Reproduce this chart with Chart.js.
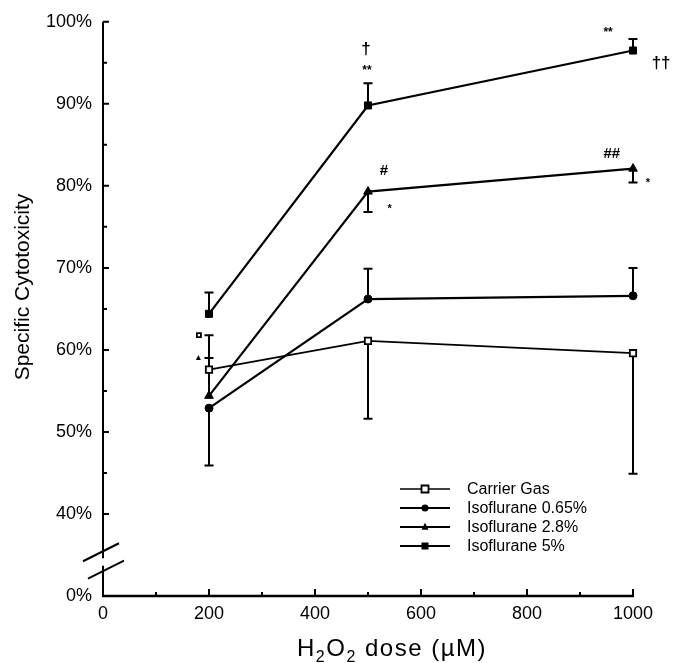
<!DOCTYPE html>
<html>
<head>
<meta charset="utf-8">
<title>Specific Cytotoxicity vs H2O2 dose</title>
<script src="https://cdn.jsdelivr.net/npm/chart.js@4.4.0/dist/chart.umd.min.js"></script>
<style>
  html, body { margin: 0; padding: 0; background: #fff; }
</style>
</head>
<body>
<canvas id="chart" width="679" height="663"></canvas>
<script>
'use strict';

// data (percent)
const doses = [200, 500, 1000];
const seriesNames = ['Carrier Gas', 'Isoflurane 0.65%', 'Isoflurane 2.8%', 'Isoflurane 5%'];
const carrierGas = [57.6, 61.1, 59.6];
const iso065 = [52.9, 66.2, 66.6];
const iso28 = [54.4, 79.3, 82.1];
const iso5 = [64.4, 89.8, 96.5];
// where each error bar ends (one sided bars)
const carrierGasErrEnd = [61.8, 51.6, 44.9];
const iso065ErrEnd = [45.9, 69.9, 70.0];
const iso28ErrEnd = [59.0, 76.8, 80.4];
const iso5ErrEnd = [67.0, 92.5, 97.9];

const yTicks = [30, 40, 50, 60, 70, 80, 90, 100]; // 30 is drawn as the 0% after the break
const xTicks = [0, 200, 400, 600, 800, 1000];

// significance marks, in data units
const marks = [
  { text: '\u2020', x: 496, y: 96.6, size: 17 },
  { text: '**', x: 498, y: 94.1, size: 12 },
  { text: '**', x: 953, y: 98.7, size: 12 },
  { text: '\u2020\u2020', x: 1053, y: 94.9, size: 17 },
  { text: '#', x: 530, y: 81.8, size: 15 },
  { text: '*', x: 541, y: 77.2, size: 11 },
  { text: '##', x: 960, y: 83.9, size: 15 },
  { text: '*', x: 1028, y: 80.3, size: 11 }
];

const FONT = '"Liberation Sans", Arial, Helvetica, sans-serif';

function pts(vals) {
  return vals.map((v, i) => ({ x: doses[i], y: v }));
}

function drawMarker(ctx, style, x, y, r) {
  ctx.save();
  ctx.lineWidth = 1.8;
  ctx.strokeStyle = '#000';
  ctx.fillStyle = '#000';
  ctx.beginPath();
  if (style === 'openRect') {
    ctx.fillStyle = '#fff';
    ctx.rect(x - r, y - r, 2 * r, 2 * r);
    ctx.fill();
    ctx.stroke();
  } else if (style === 'rect') {
    ctx.rect(x - r, y - r, 2 * r, 2 * r);
    ctx.fill();
  } else if (style === 'triangle') {
    ctx.moveTo(x, y - r * 1.2);
    ctx.lineTo(x + r, y + r * 0.8);
    ctx.lineTo(x - r, y + r * 0.8);
    ctx.closePath();
    ctx.fill();
  } else {
    ctx.arc(x, y, r, 0, Math.PI * 2);
    ctx.fill();
  }
  ctx.restore();
}

const markerStyles = ['openRect', 'circle', 'triangle', 'rect'];
const markerSizes = [4.5, 4, 5, 5];
const errEnds = [carrierGasErrEnd, iso065ErrEnd, iso28ErrEnd, iso5ErrEnd];

const errorBars = {
  id: 'errorBars',
  beforeDatasetsDraw(chart) {
    const ctx = chart.ctx;
    const xs = chart.scales.x, ys = chart.scales.y;
    ctx.save();
    ctx.strokeStyle = '#000';
    ctx.lineWidth = 2;
    chart.data.datasets.forEach((ds, i) => {
      ds.data.forEach((p, j) => {
        const px = xs.getPixelForValue(p.x);
        const y0 = ys.getPixelForValue(p.y);
        const y1 = ys.getPixelForValue(errEnds[i][j]);
        ctx.beginPath();
        ctx.moveTo(px, y0);
        ctx.lineTo(px, y1);
        ctx.moveTo(px - 4.5, y1);
        ctx.lineTo(px + 4.5, y1);
        ctx.stroke();
      });
    });
    ctx.restore();
  }
};

const decor = {
  id: 'decor',
  afterDraw(chart) {
    const ctx = chart.ctx;
    const xs = chart.scales.x, ys = chart.scales.y;
    const area = chart.chartArea;
    ctx.save();
    ctx.strokeStyle = '#000';
    ctx.fillStyle = '#000';

    // y axis with a break
    const ax = area.left;
    const breakTop = ys.getPixelForValue(34.6);
    const breakBot = ys.getPixelForValue(33.7);
    ctx.lineWidth = 2;
    ctx.beginPath();
    ctx.moveTo(ax, ys.getPixelForValue(100));
    ctx.lineTo(ax, breakTop);
    ctx.moveTo(ax, breakBot);
    ctx.lineTo(ax, area.bottom + 1);
    ctx.stroke();
    // slashes
    ctx.lineWidth = 2;
    [[ax - 2, breakTop - 6], [ax + 3, breakBot + 4]].forEach(c => {
      ctx.beginPath();
      ctx.moveTo(c[0] - 18, c[1] + 9);
      ctx.lineTo(c[0] + 18, c[1] - 9);
      ctx.stroke();
    });

    // x axis
    ctx.lineWidth = 2.5;
    ctx.beginPath();
    ctx.moveTo(ax - 1, area.bottom);
    ctx.lineTo(xs.getPixelForValue(1000) + 1, area.bottom);
    ctx.stroke();

    // inward ticks
    ctx.lineWidth = 2;
    ctx.beginPath();
    for (let v = 40; v <= 100; v += 5) {
      const py = ys.getPixelForValue(v);
      const len = v % 10 === 0 ? 6 : 4;
      ctx.moveTo(ax, py);
      ctx.lineTo(ax + len, py);
    }
    for (let v = 100; v <= 1000; v += 100) {
      const px = xs.getPixelForValue(v);
      const len = v % 200 === 0 ? 7 : 4;
      ctx.moveTo(px, area.bottom);
      ctx.lineTo(px, area.bottom - len);
    }
    ctx.stroke();

    // significance marks
    ctx.textAlign = 'center';
    ctx.textBaseline = 'middle';
    marks.forEach(m => {
      ctx.font = 'bold ' + m.size + 'px ' + FONT;
      ctx.fillText(m.text, xs.getPixelForValue(m.x), ys.getPixelForValue(m.y));
    });
    // small symbols naming the error bar caps at 200
    drawMarker(ctx, 'openRect', xs.getPixelForValue(181), ys.getPixelForValue(carrierGasErrEnd[0]), 2);
    drawMarker(ctx, 'triangle', xs.getPixelForValue(180), ys.getPixelForValue(iso28ErrEnd[0]), 2.5);

    // legend
    const lx = 400, ly = 489, gap = 19;
    ctx.font = '16px ' + FONT;
    ctx.textAlign = 'left';
    chart.data.datasets.forEach((ds, i) => {
      const y = ly + i * gap;
      ctx.lineWidth = i === 0 ? 1.5 : 2;
      ctx.beginPath();
      ctx.moveTo(lx, y);
      ctx.lineTo(lx + 50, y);
      ctx.stroke();
      drawMarker(ctx, markerStyles[i], lx + 25, y, 3.5);
      ctx.fillStyle = '#000';
      ctx.fillText(ds.label, lx + 67, y + 1);
    });

    // axis titles
    ctx.save();
    ctx.translate(23, 287);
    ctx.rotate(-Math.PI / 2);
    ctx.font = '21px ' + FONT;
    ctx.textAlign = 'center';
    ctx.textBaseline = 'middle';
    ctx.fillText('Specific Cytotoxicity', 0, 0);
    ctx.restore();

    const parts = [['H', 0], ['2', 1], ['O', 0], ['2', 1], [' dose (\u00b5M)', 0]];
    let tx = 297;
    const base = 656;
    ctx.textAlign = 'left';
    ctx.textBaseline = 'alphabetic';
    ctx.letterSpacing = '1.5px';
    parts.forEach(p => {
      ctx.font = (p[1] ? '16px ' : '24px ') + FONT;
      ctx.fillText(p[0], tx, p[1] ? base + 6 : base);
      tx += ctx.measureText(p[0]).width;
    });

    ctx.restore();
  }
};

const datasets = [carrierGas, iso065, iso28, iso5].map((vals, i) => ({
  label: seriesNames[i],
  data: pts(vals),
  borderColor: '#000',
  borderWidth: i === 0 ? 1.8 : 2.2,
  pointStyle: markerStyles[i] === 'openRect' ? 'rect' : markerStyles[i],
  pointRadius: markerSizes[i],
  pointBackgroundColor: i === 0 ? '#fff' : '#000',
  pointBorderColor: '#000',
  pointBorderWidth: i === 0 ? 1.8 : 1,
  tension: 0,
  fill: false,
  clip: false
}));

new Chart(document.getElementById('chart'), {
  type: 'line',
  data: { datasets: datasets },
  options: {
    responsive: false,
    animation: false,
    devicePixelRatio: 1,
    layout: { padding: { top: 20, right: 46, left: 0, bottom: 0 } },
    plugins: { legend: { display: false }, tooltip: { enabled: false } },
    scales: {
      x: {
        type: 'linear',
        min: 0,
        max: 1000,
        afterBuildTicks: s => { s.ticks = xTicks.map(v => ({ value: v })); },
        afterFit: s => { s.height = 67; },
        grid: { display: false, drawTicks: false },
        border: { display: false },
        ticks: {
          color: '#000',
          padding: 7,
          font: { family: FONT, size: 18 },
          callback: v => String(v)
        }
      },
      y: {
        type: 'linear',
        min: 30,
        max: 100,
        afterBuildTicks: s => { s.ticks = yTicks.map(v => ({ value: v })); },
        afterFit: s => { s.width = 103; },
        grid: { display: false, drawTicks: false },
        border: { display: false },
        ticks: {
          color: '#000',
          padding: 11,
          font: { family: FONT, size: 18 },
          callback: v => (v === 30 ? '0%' : v + '%')
        }
      }
    }
  },
  plugins: [errorBars, decor]
});
</script>
</body>
</html>
